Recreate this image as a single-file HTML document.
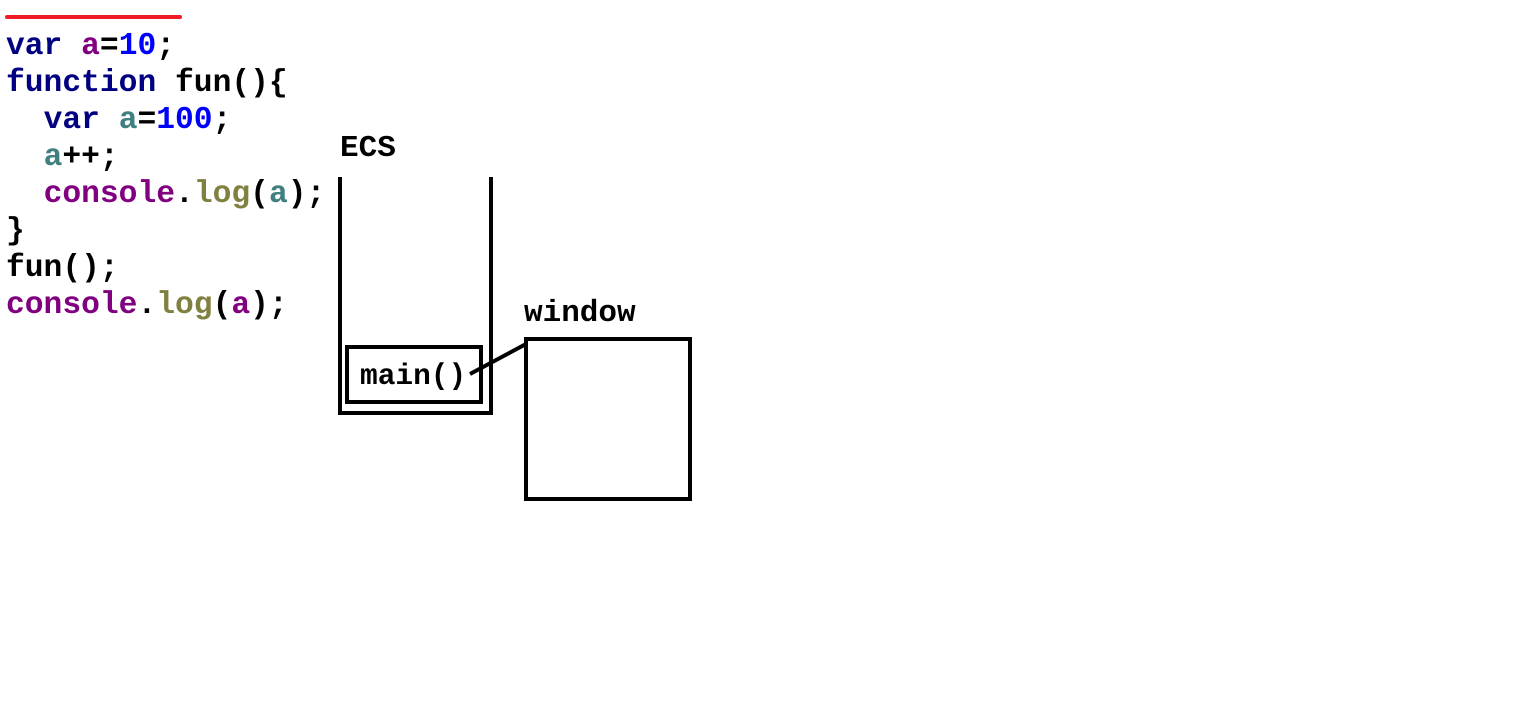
<!DOCTYPE html>
<html><head><meta charset="utf-8"><style>
html,body{margin:0;padding:0;background:#fff;width:1526px;height:728px;overflow:hidden;position:relative}
.code{position:absolute;left:6px;top:28px;font-family:"Liberation Mono",monospace;font-weight:bold;font-size:31.3px;line-height:37px;white-space:pre;color:#000}
.k{color:#000080}.v{color:#800080}.n{color:#0000ff}.t{color:#408080}.l{color:#808040}
.lbl{position:absolute;font-family:"Liberation Mono",monospace;font-weight:bold;font-size:31px;color:#000}
</style></head><body>
<div style="position:absolute;left:5px;top:15px;width:177px;height:4px;background:#ee1c24;border-radius:2px"></div>
<div class="code"><span class="k">var</span> <span class="v">a</span>=<span class="n">10</span>;
<span class="k">function</span> fun(){
  <span class="k">var</span> <span class="t">a</span>=<span class="n">100</span>;
  <span class="t">a</span>++;
  <span class="v">console</span>.<span class="l">log</span>(<span class="t">a</span>);
}
fun();
<span class="v">console</span>.<span class="l">log</span>(<span class="v">a</span>);</div>
<div class="lbl" style="left:340px;top:131px">ECS</div>
<div class="lbl" style="left:524px;top:296px">window</div>
<svg width="1526" height="728" style="position:absolute;left:0;top:0">
<path d="M340 177 V413 H491 V177" fill="none" stroke="#000" stroke-width="4"/>
<rect x="347" y="347" width="134" height="55" fill="none" stroke="#000" stroke-width="4"/>
<text x="360" y="384" font-family="Liberation Mono, monospace" font-weight="bold" font-size="29.5">main()</text>
<line x1="470" y1="374" x2="526" y2="344" stroke="#000" stroke-width="4"/>
<rect x="526" y="339" width="164" height="160" fill="none" stroke="#000" stroke-width="4"/>
</svg>
</body></html>
